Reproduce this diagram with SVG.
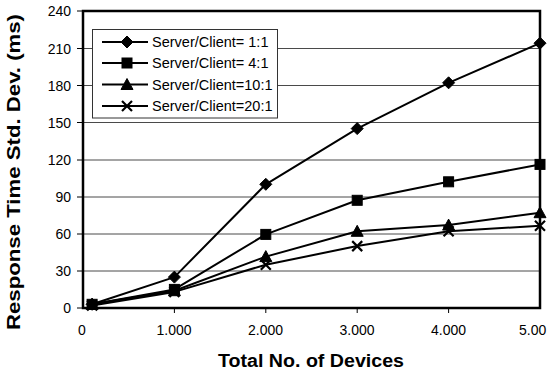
<svg xmlns="http://www.w3.org/2000/svg" width="549" height="377" viewBox="0 0 549 377">
  <style>
    .grid { stroke: #4a4a4a; stroke-width: 1; }
    .frame { fill: none; stroke: #000; stroke-width: 2.5; }
    .tick { stroke: #000; stroke-width: 1; }
    .ylab { font-family: "Liberation Sans", Arial, sans-serif; font-size: 14px; text-anchor: end; fill: #000; }
    .xlab { font-family: "Liberation Sans", Arial, sans-serif; font-size: 14px; text-anchor: middle; fill: #000; }
    .title { font-family: "Liberation Sans", Arial, sans-serif; font-size: 18px; font-weight: bold; fill: #000; }
    .series { fill: none; stroke: #000; stroke-width: 2; stroke-linejoin: round; }
    .mk { fill: #000; stroke: #000; }
    .xm { fill: none; stroke: #000; stroke-width: 2.2; }
    .leg { font-family: "Liberation Sans", Arial, sans-serif; font-size: 14.5px; fill: #000; }
  </style>
  <defs>
    <path id="diamond" class="mk" d="M0,-6 L6,0 L0,6 L-6,0 Z"/>
    <rect id="square" class="mk" x="-5" y="-5" width="10" height="10"/>
    <path id="triangle" class="mk" d="M0,-6 L6,5 L-6,5 Z"/>
    <path id="cross" class="xm" d="M-5,-5 L5,5 M-5,5 L5,-5"/>
  </defs>

  <rect width="549" height="377" fill="#fff"/>

  <!-- horizontal grid lines every 30 ms -->
  <g id="grid">
    <line class="grid" x1="83" y1="271" x2="540" y2="271"/>
    <line class="grid" x1="83" y1="234" x2="540" y2="234"/>
    <line class="grid" x1="83" y1="197" x2="540" y2="197"/>
    <line class="grid" x1="83" y1="160" x2="540" y2="160"/>
    <line class="grid" x1="83" y1="122.5" x2="540" y2="122.5"/>
    <line class="grid" x1="83" y1="85.5" x2="540" y2="85.5"/>
    <line class="grid" x1="83" y1="48.5" x2="540" y2="48.5"/>
  </g>

  <!-- axes, ticks and tick labels -->
  <g id="axes">
    <rect class="frame" x="83" y="11" width="457" height="297"/>
    <g class="tick">
      <line x1="77" y1="308" x2="83" y2="308"/>
      <line x1="77" y1="271" x2="83" y2="271"/>
      <line x1="77" y1="234" x2="83" y2="234"/>
      <line x1="77" y1="197" x2="83" y2="197"/>
      <line x1="77" y1="160" x2="83" y2="160"/>
      <line x1="77" y1="122.5" x2="83" y2="122.5"/>
      <line x1="77" y1="85.5" x2="83" y2="85.5"/>
      <line x1="77" y1="48.5" x2="83" y2="48.5"/>
      <line x1="77" y1="11" x2="83" y2="11"/>
      <line x1="174.4" y1="308" x2="174.4" y2="313"/>
      <line x1="265.8" y1="308" x2="265.8" y2="313"/>
      <line x1="357.2" y1="308" x2="357.2" y2="313"/>
      <line x1="448.6" y1="308" x2="448.6" y2="313"/>
    </g>
    <text class="ylab" x="71" y="313">0</text>
    <text class="ylab" x="71" y="276">30</text>
    <text class="ylab" x="71" y="239">60</text>
    <text class="ylab" x="71" y="202">90</text>
    <text class="ylab" x="71" y="165">120</text>
    <text class="ylab" x="71" y="127.5">150</text>
    <text class="ylab" x="71" y="90.5">180</text>
    <text class="ylab" x="71" y="53.5">210</text>
    <text class="ylab" x="71" y="16">240</text>
    <text class="xlab" x="82" y="335">0</text>
    <text class="xlab" x="174" y="335">1.000</text>
    <text class="xlab" x="265.5" y="335">2.000</text>
    <text class="xlab" x="357" y="335">3.000</text>
    <text class="xlab" x="448.5" y="335">4.000</text>
    <text class="xlab" x="519" y="335" style="text-anchor:start">5.00</text>
  </g>

  <!-- axis titles -->
  <text class="title" x="218" y="367" textLength="186" lengthAdjust="spacingAndGlyphs">Total No. of Devices</text>
  <text class="title" transform="translate(20,330) rotate(-90)" textLength="316" lengthAdjust="spacingAndGlyphs">Response Time Std. Dev. (ms)</text>

  <!-- data series -->
  <g id="connectors">
    <polyline class="series" points="92.1,304.3 174.4,277.1 265.8,184.3 357.2,128.6 448.6,82.8 540,43.2"/>
    <polyline class="series" points="92.1,304.3 174.4,289.4 265.8,234.4 357.2,200.3 448.6,181.8 540,164.4"/>
    <polyline class="series" points="92.1,304.3 174.4,290.7 265.8,256.6 357.2,231.3 448.6,225.1 540,212.7"/>
    <polyline class="series" points="92.1,305.5 174.4,291.9 265.8,264.7 357.2,246.1 448.6,231.3 540,225.7"/>
  </g>

  <g id="series-1-1">
    <use href="#diamond" x="92.1" y="304.3"/>
    <use href="#diamond" x="174.4" y="277.1"/>
    <use href="#diamond" x="265.8" y="184.3"/>
    <use href="#diamond" x="357.2" y="128.6"/>
    <use href="#diamond" x="448.6" y="82.8"/>
    <use href="#diamond" x="540" y="43.2"/>
  </g>
  <g id="series-4-1">
    <use href="#square" x="92.1" y="304.3"/>
    <use href="#square" x="174.4" y="289.4"/>
    <use href="#square" x="265.8" y="234.4"/>
    <use href="#square" x="357.2" y="200.3"/>
    <use href="#square" x="448.6" y="181.8"/>
    <use href="#square" x="540" y="164.4"/>
  </g>
  <g id="series-10-1">
    <use href="#triangle" x="92.1" y="304.3"/>
    <use href="#triangle" x="174.4" y="290.7"/>
    <use href="#triangle" x="265.8" y="256.6"/>
    <use href="#triangle" x="357.2" y="231.3"/>
    <use href="#triangle" x="448.6" y="225.1"/>
    <use href="#triangle" x="540" y="212.7"/>
  </g>
  <g id="series-20-1">
    <use href="#cross" x="92.1" y="305.5"/>
    <use href="#cross" x="174.4" y="291.9"/>
    <use href="#cross" x="265.8" y="264.7"/>
    <use href="#cross" x="357.2" y="246.1"/>
    <use href="#cross" x="448.6" y="231.3"/>
    <use href="#cross" x="540" y="225.7"/>
  </g>

  <!-- legend -->
  <g id="legend">
    <rect x="92.5" y="29.5" width="185" height="88.5" fill="#fff" stroke="#333" stroke-width="1"/>
    <line class="series" x1="102" y1="42" x2="148" y2="42"/>
    <use href="#diamond" x="127" y="42"/>
    <text class="leg" x="152" y="47">Server/Client= 1:1</text>
    <line class="series" x1="102" y1="63" x2="148" y2="63"/>
    <use href="#square" x="127" y="63"/>
    <text class="leg" x="152" y="68">Server/Client= 4:1</text>
    <line class="series" x1="102" y1="84.5" x2="148" y2="84.5"/>
    <use href="#triangle" x="127" y="84.5"/>
    <text class="leg" x="152" y="89.5">Server/Client=10:1</text>
    <line class="series" x1="102" y1="106" x2="148" y2="106"/>
    <use href="#cross" x="127" y="106"/>
    <text class="leg" x="152" y="111">Server/Client=20:1</text>
  </g>
</svg>
